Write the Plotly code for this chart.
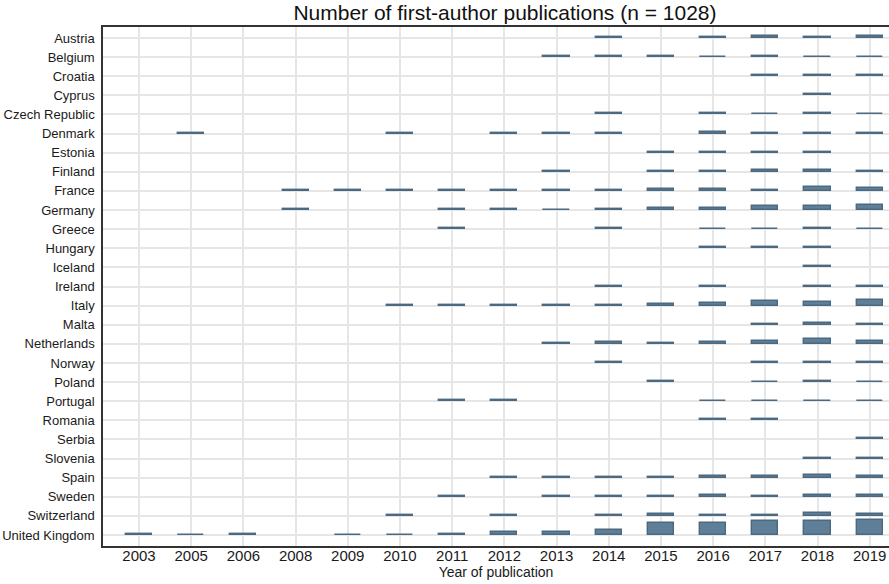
import plotly.graph_objects as go

years = ["2003", "2005", "2006", "2008", "2009", "2010", "2011", "2012",
         "2013", "2014", "2015", "2016", "2017", "2018", "2019"]

countries = ["Austria", "Belgium", "Croatia", "Cyprus", "Czech Republic", "Denmark",
             "Estonia", "Finland", "France", "Germany", "Greece", "Hungary", "Iceland",
             "Ireland", "Italy", "Malta", "Netherlands", "Norway", "Poland", "Portugal",
             "Romania", "Serbia", "Slovenia", "Spain", "Sweden", "Switzerland",
             "United Kingdom"]

# counts per country, aligned with `years`
austria     = [0, 0, 0, 0, 0, 0, 0, 0, 0, 4, 0, 4, 8, 4, 10]
belgium     = [0, 0, 0, 0, 0, 0, 0, 0, 4, 4, 4, 2, 6, 2, 2]
croatia     = [0, 0, 0, 0, 0, 0, 0, 0, 0, 0, 0, 0, 4, 4, 4]
cyprus      = [0, 0, 0, 0, 0, 0, 0, 0, 0, 0, 0, 0, 0, 4, 0]
czech       = [0, 0, 0, 0, 0, 0, 0, 0, 0, 4, 0, 4, 2, 6, 2]
denmark     = [0, 4, 0, 0, 0, 4, 0, 4, 4, 4, 0, 6, 2, 4, 4]
estonia     = [0, 0, 0, 0, 0, 0, 0, 0, 0, 0, 4, 4, 4, 4, 0]
finland     = [0, 0, 0, 0, 0, 0, 0, 0, 4, 0, 4, 4, 8, 6, 2]
france      = [0, 0, 0, 4, 4, 4, 4, 2, 4, 2, 6, 8, 4, 17, 12]
germany     = [0, 0, 0, 4, 0, 0, 4, 4, 2, 4, 8, 8, 17, 17, 21]
greece      = [0, 0, 0, 0, 0, 0, 4, 0, 0, 4, 0, 2, 2, 6, 2]
hungary     = [0, 0, 0, 0, 0, 0, 0, 0, 0, 0, 0, 4, 4, 4, 0]
iceland     = [0, 0, 0, 0, 0, 0, 0, 0, 0, 0, 0, 0, 0, 4, 0]
ireland     = [0, 0, 0, 0, 0, 0, 0, 0, 0, 2, 0, 2, 0, 2, 2]
italy       = [0, 0, 0, 0, 0, 4, 4, 4, 2, 4, 8, 10, 17, 15, 21]
malta       = [0, 0, 0, 0, 0, 0, 0, 0, 0, 0, 0, 0, 4, 6, 4]
netherlands = [0, 0, 0, 0, 0, 0, 0, 0, 4, 8, 4, 6, 12, 19, 12]
norway      = [0, 0, 0, 0, 0, 0, 0, 0, 0, 2, 0, 0, 2, 2, 2]
poland      = [0, 0, 0, 0, 0, 0, 0, 0, 0, 0, 4, 0, 2, 4, 2]
portugal    = [0, 0, 0, 0, 0, 0, 4, 4, 0, 0, 0, 2, 2, 2, 2]
romania     = [0, 0, 0, 0, 0, 0, 0, 0, 0, 0, 0, 4, 4, 0, 0]
serbia      = [0, 0, 0, 0, 0, 0, 0, 0, 0, 0, 0, 0, 0, 0, 4]
slovenia    = [0, 0, 0, 0, 0, 0, 0, 0, 0, 0, 0, 0, 0, 4, 4]
spain       = [0, 0, 0, 0, 0, 0, 0, 4, 4, 4, 2, 6, 8, 10, 8]
sweden      = [0, 0, 0, 0, 0, 0, 4, 0, 4, 4, 2, 6, 4, 8, 8]
switzerland = [0, 0, 0, 0, 0, 2, 0, 2, 0, 2, 6, 4, 2, 10, 8]
uk          = [4, 2, 4, 0, 2, 2, 4, 12, 12, 21, 50, 50, 58, 58, 62]

counts = [austria, belgium, croatia, cyprus, czech, denmark, estonia, finland,
          france, germany, greece, hungary, iceland, ireland, italy, malta,
          netherlands, norway, poland, portugal, romania, serbia, slovenia,
          spain, sweden, switzerland, uk]

SCALE = 0.0128  # row units per publication

n_rows = len(countries)
xs, hs, bases, texts = [], [], [], []
for i, (c, row) in enumerate(zip(countries, counts)):
    ypos = n_rows - 1 - i
    for yr, v in zip(years, row):
        if v > 0:
            xs.append(yr)
            hs.append(v * SCALE)
            bases.append(ypos)
            texts.append(f"{c}, {yr}: {v}")

fig = go.Figure()
fig.add_trace(go.Bar(
    x=xs, y=hs, base=bases, width=0.5,
    marker=dict(color="#5f7f98", line=dict(color="#4b6a82", width=1.4)),
    hovertext=texts, hoverinfo="text", showlegend=False,
))

fig.update_layout(
    width=889, height=584,
    margin=dict(l=103, r=0, t=27, b=38),
    paper_bgcolor="white", plot_bgcolor="white",
    font=dict(family="Liberation Sans, Arial, sans-serif", color="#1a1a1a"),
    title=dict(text="Number of first-author publications (n = 1028)",
               x=0.568, xanchor="center", y=1 - 13 / 584, yanchor="middle",
               font=dict(size=21, color="#111111")),
    bargap=0,
)
fig.update_xaxes(
    type="category", categoryorder="array", categoryarray=years,
    range=[-0.69, 14.37],
    showgrid=True, gridcolor="#e6e6e6", gridwidth=1.5,
    showline=True, linecolor="#333333", linewidth=1.5, mirror=True,
    ticks="", tickfont=dict(size=15, color="#1a1a1a"), ticklabelstandoff=-5,
    title=dict(text="Year of publication", font=dict(size=14, color="#1a1a1a"), standoff=3),
    zeroline=False, automargin=False,
)
fig.update_yaxes(
    range=[-0.575, n_rows - 1 + 0.575],
    tickmode="array", tickvals=[n_rows - 1 - i for i in range(n_rows)], ticktext=countries,
    showgrid=True, gridcolor="#e6e6e6", gridwidth=1.5,
    showline=True, linecolor="#333333", linewidth=1.5, mirror=False,
    ticks="", tickfont=dict(size=13, color="#1a1a1a"), ticklabelstandoff=4,
    zeroline=False, automargin=False,
)

fig.write_html("out.html", config={"displayModeBar": False},
               post_script="document.body.style.margin='0';document.body.style.padding='0';")
